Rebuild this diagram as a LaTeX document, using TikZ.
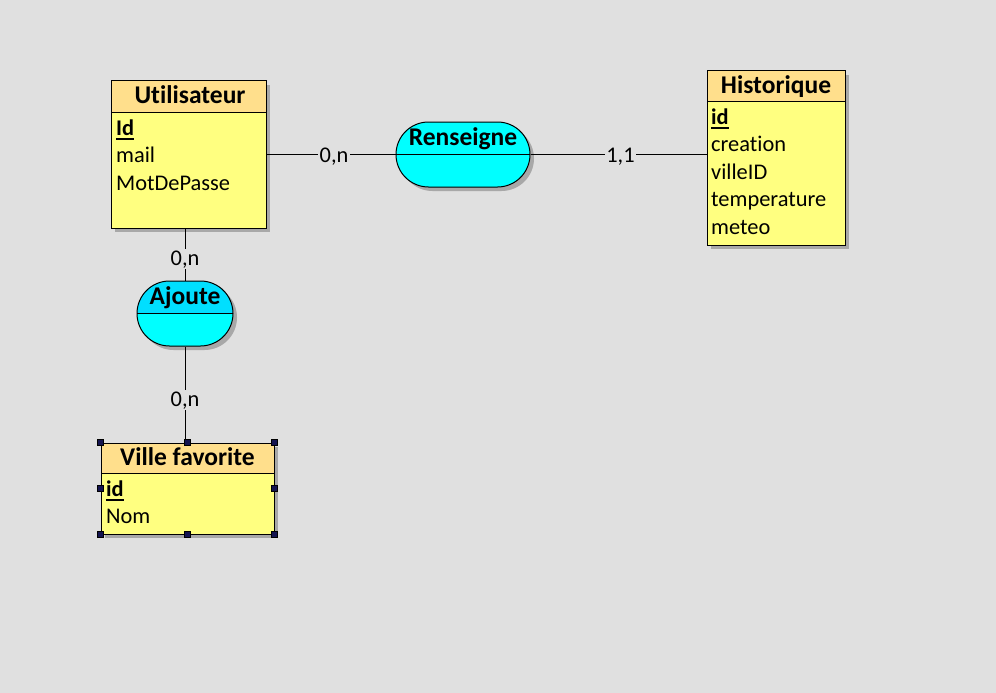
\documentclass[tikz,border=0pt]{standalone}
\usepackage{fontspec}
\setmainfont{Carlito}[Ligatures={NoCommon}]
\usetikzlibrary{shapes.misc,shadows,calc}
\definecolor{bgc}{HTML}{E0E0E0}
\definecolor{bodyc}{HTML}{FFFF80}
\definecolor{hdrc}{HTML}{FFDF8C}
\definecolor{cyanc}{HTML}{00FFFF}
\definecolor{cyanh}{HTML}{00DFFF}
\definecolor{shadc}{HTML}{A8A8A8}
\definecolor{handc}{HTML}{141450}
\tikzset{
  entity/.style={rectangle, draw=black, line width=1pt, fill=bodyc, inner sep=0pt,
    drop shadow={shadow xshift=4pt, shadow yshift=-4pt, fill=shadc, opacity=1},
    path picture={
      \fill[hdrc] (path picture bounding box.north west) rectangle ([yshift=-#1]path picture bounding box.north east);
      \draw[line width=1pt] ([yshift=-#1]path picture bounding box.north west) -- ([yshift=-#1]path picture bounding box.north east);
    }},
  assoc/.style={rounded rectangle, draw=black, line width=1pt, fill=cyanc, inner sep=0pt,
    drop shadow={shadow xshift=4pt, shadow yshift=-4pt, fill=shadc, opacity=1},
    path picture={
      \fill[#1] (path picture bounding box.north west) rectangle (path picture bounding box.east);
      \draw[line width=1pt] (path picture bounding box.west) -- (path picture bounding box.east);
    }},
  attr/.style={anchor=base west, inner sep=0pt, font=\fontsize{22.4}{26}\selectfont},
  keyattr/.style={attr, font=\fontsize{22.4}{26}\selectfont\bfseries},
  keyline/.style={line width=1.4pt, draw=black},
  ttl/.style={anchor=base, inner sep=0pt, font=\fontsize{25.5}{29}\selectfont\bfseries},
  card/.style={anchor=base, fill=bgc, inner sep=1.5pt, font=\fontsize{22.4}{26}\selectfont},
  link/.style={draw=black, line width=1pt},
  handle/.style={rectangle, draw=black, fill=handc, line width=0.8pt, minimum size=6.5pt, inner sep=0pt},
}
\begin{document}
\begin{tikzpicture}[x=1pt,y=-1pt]
\fill[bgc] (0,0) rectangle (996,693);
\useasboundingbox (0,0) rectangle (996,693);

% entities
\node[entity=31pt, minimum width=155pt, minimum height=147pt] (util) at (188.5,154.5) {};
\node[ttl] (utilT) at (190,103) {Utilisateur};
\node[keyattr] (utilA1) at (116,135) {Id};
\draw[keyline] ([yshift=-4pt]utilA1.base west) -- ([yshift=-4pt]utilA1.base east);
\node[attr] (utilA2) at (116,162.5) {mail};
\node[attr] (utilA3) at (116,190) {MotDePasse};

\node[entity=30pt, minimum width=138pt, minimum height=174pt] (hist) at (776,158) {};
\node[ttl] (histT) at (776,93) {Historique};
\node[keyattr] (histA1) at (711,124) {id};
\draw[keyline] ([yshift=-4pt]histA1.base west) -- ([yshift=-4pt]histA1.base east);
\node[attr] (histA2) at (711,151.5) {creation};
\node[attr] (histA3) at (711,179) {villeID};
\node[attr] (histA4) at (711,206.5) {temperature};
\node[attr] (histA5) at (711,234) {meteo};

\node[entity=30pt, minimum width=173pt, minimum height=91pt] (ville) at (187.5,488.5) {};
\node[ttl] (villeT) at (187.5,465) {Ville favorite};
\node[keyattr] (villeA1) at (106,496) {id};
\draw[keyline] ([yshift=-4pt]villeA1.base west) -- ([yshift=-4pt]villeA1.base east);
\node[attr] (villeA2) at (106,523.5) {Nom};

% associations
\node[assoc=cyanc, minimum width=134pt, minimum height=65pt] (rens) at (463,154.5) {};
\node[ttl] (rensT) at (463,145) {Renseigne};
\node[assoc=cyanh, minimum width=96pt, minimum height=65pt] (ajout) at (185,313.5) {};
\node[ttl] (ajoutT) at (185,304) {Ajoute};

% links
\draw[link] (util.east) -- (rens.west);
\draw[link] (rens.east) -- (rens.east -| hist.west);
\draw[link] (ajout.north) -- (ajout.north |- util.south);
\draw[link] (ajout.south) -- (ajout.south |- ville.north);

% cardinalities
\node[card] (c1) at (334,162) {0,n};
\node[card] (c2) at (620.5,162) {1,1};
\node[card] (c3) at (185,265) {0,n};
\node[card] (c4) at (185,406) {0,n};

% selection handles
\foreach \a/\n in {north west/h1, north/h2, north east/h3, west/h4, east/h5, south west/h6, south/h7, south east/h8}
  \node[handle] (\n) at (ville.\a) {};
\end{tikzpicture}
\end{document}
